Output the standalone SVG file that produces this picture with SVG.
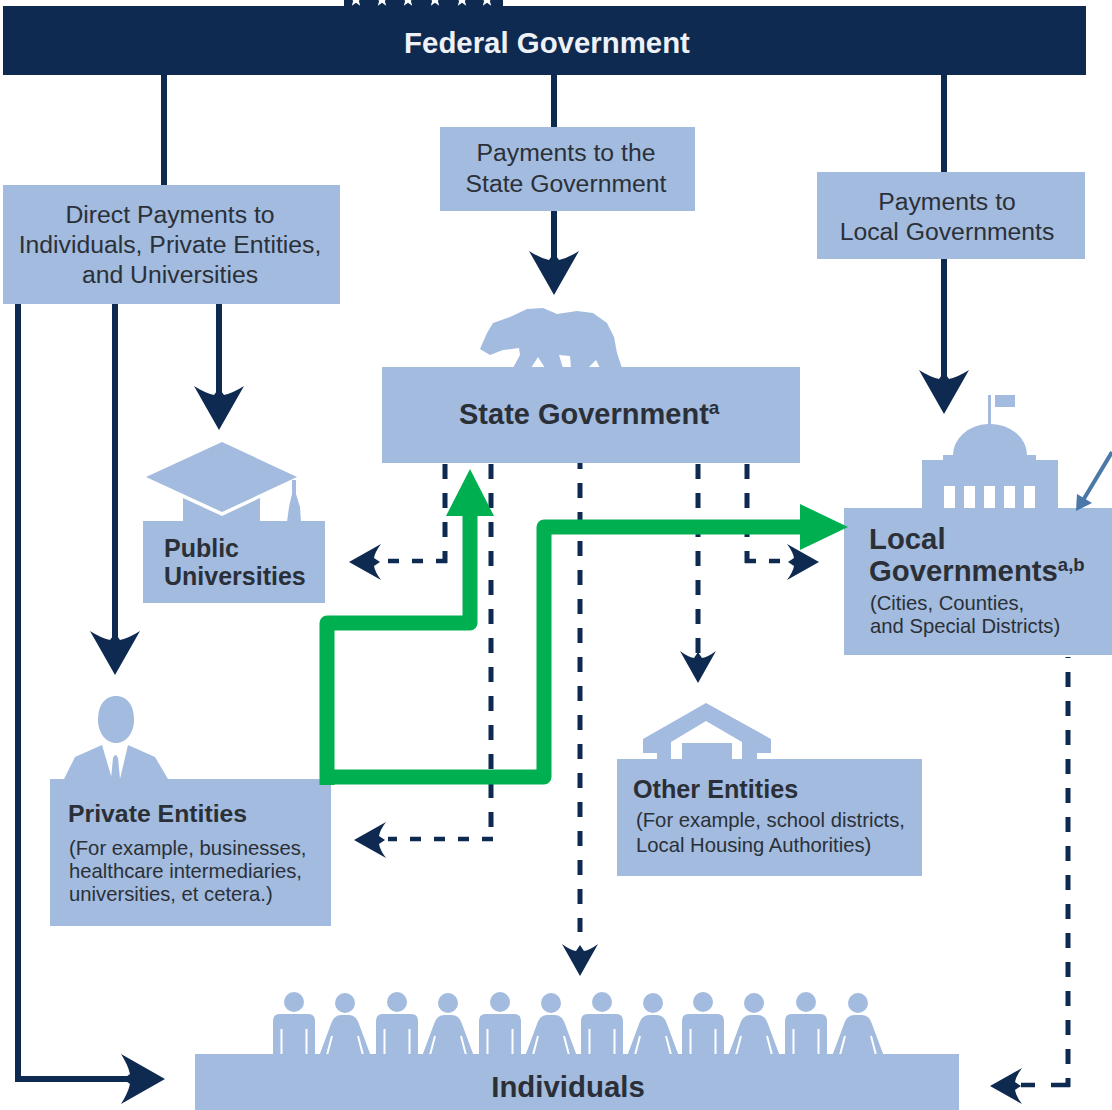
<svg xmlns="http://www.w3.org/2000/svg" width="1112" height="1110" viewBox="0 0 1112 1110">
<defs>
<style>
.box{fill:#a2bbde}
.nav{fill:#0e2a50}
text{font-family:"Liberation Sans",Arial,sans-serif;fill:#2b3038}
.r{font-size:24.75px;text-anchor:middle}
.b{font-weight:bold}
.sub{font-size:20.25px}
.solid{fill:none;stroke:#0e2a50;stroke-width:6}
.dv{fill:none;stroke:#0e2a50;stroke-width:5;stroke-dasharray:15 14}
.dh{fill:none;stroke:#0e2a50;stroke-width:4.5;stroke-dasharray:11 13}
.green{fill:none;stroke:#00b050;stroke-width:15;stroke-linejoin:round}
</style>
<path id="big" class="nav" d="M0 0L-25-44Q-14-37-5-35L0-42L5-35Q14-37 25-44Z"/>
<path id="small" class="nav" d="M0 0L-18-32Q-10-26-4-25L0-31L4-25Q10-26 18-32Z"/>
<path id="star" d="M0-7L1.800-2.200L6.700-2.200L2.800 .8L4.200 5.700L0 2.800L-4.200 5.700L-2.800 .8L-6.700-2.200L-1.800-2.200Z" fill="#fff"/>
<g id="man"><circle cx="0" cy="-53" r="10" class="box"/><path class="box" d="M-21 0V-34Q-21-41-14-41H14Q21-41 21-34V0H13.500V-26H11.500V0H-11.500V-26H-13.500V0Z"/></g>
<g id="woman"><circle cx="0" cy="-52" r="10" class="box"/><path class="box" d="M-25.500 0L-14-31Q-11-40-4-40H4Q11-40 14-31L25.500 0Z"/><path d="M-13-19L-18 0M13-19L18 0" stroke="#fff" stroke-width="2" fill="none"/></g>
</defs>
<rect width="1112" height="1110" fill="#fff"/>

<g id="connectors">
<path class="solid" d="M164 75V186"/>
<path class="solid" d="M554 75V128"/>
<path class="solid" d="M944 75V174"/>
<path class="solid" d="M554 210V262"/>
<path class="solid" d="M944 258V380"/>
<path class="solid" d="M219 303V396"/>
<path class="solid" d="M115 303V641"/>
<path class="solid" d="M18 303V1079H132"/>
<use href="#big" transform="translate(554 295)"/>
<use href="#big" transform="translate(944 414)"/>
<use href="#big" transform="translate(219 430)"/>
<use href="#big" transform="translate(115 675)"/>
<use href="#big" transform="translate(165 1079) rotate(-90)"/>
<path class="dv" d="M445 464V563"/>
<path class="dh" d="M447 561H388"/>
<path class="dv" d="M491 464V841"/>
<path class="dh" d="M493 839H388"/>
<path class="dv" d="M580 454V932"/>
<path class="dv" d="M698 464V656"/>
<path class="dv" d="M747 464V563"/>
<path class="dh" d="M745 561H795"/>
<path class="dv" d="M1068 1087V657" style="stroke-dashoffset:6"/>
<path class="dh" d="M1070 1085H1020" style="stroke-dasharray:19 16 14 100"/>
<use href="#small" transform="translate(349 562) rotate(90)"/>
<use href="#small" transform="translate(354 840) rotate(90)"/>
<use href="#small" transform="translate(580 976)"/>
<use href="#small" transform="translate(698 683)"/>
<use href="#small" transform="translate(819 562) rotate(-90)"/>
<use href="#small" transform="translate(990 1086) rotate(90)"/>
</g>

<g id="federal">
<rect x="344" y="0" width="159" height="8" class="nav"/>
<use href="#star" x="356" y="0"/><use href="#star" x="382" y="0"/><use href="#star" x="408" y="0"/><use href="#star" x="435" y="0"/><use href="#star" x="462" y="0"/><use href="#star" x="487" y="0"/>
<rect x="3" y="6" width="1083" height="69" class="nav"/>
<text x="547" y="53" text-anchor="middle" class="b" font-size="29.4" style="fill:#eef1f6">Federal Government</text>
</g>

<g id="direct-payments">
<rect x="3" y="185" width="337" height="119" class="box"/>
<text class="r" x="170" y="223">Direct Payments to</text>
<text class="r" x="170" y="253">Individuals, Private Entities,</text>
<text class="r" x="170" y="283">and Universities</text>
</g>
<g id="payments-state">
<rect x="440" y="127" width="255" height="84" class="box"/>
<text class="r" x="566" y="161">Payments to the</text>
<text class="r" x="566" y="192">State Government</text>
</g>
<g id="payments-local">
<rect x="817" y="172" width="268" height="87" class="box"/>
<text class="r" x="947" y="210">Payments to</text>
<text class="r" x="947" y="240">Local Governments</text>
</g>

<g id="state-government">
<path class="box" d="M480 349L487 333L493 323L510 317L527 309L543 308L557 314L577 311L593 313L607 323L614 337L617 353L622 368H600L596 360L588 368H571L570 356L559 355L563 368H545L538 357L531 368H513L520 355L519 348L503 350L490 355Z"/>
<rect x="382" y="367" width="418" height="96" class="box"/>
<text x="459" y="424" class="b" font-size="29">State Government<tspan font-size="19" dy="-10">a</tspan></text>
</g>

<g id="public-universities">
<path class="box" d="M183 498L222 516L260 498V522H183Z"/>
<path class="box" d="M222 442L297 477L222 512L146 477Z"/>
<path class="box" d="M292 480H296V494L300 507L301 522H287L289 507L292 494Z"/>
<rect x="143" y="521" width="182" height="82" class="box"/>
<text x="164" y="557" class="b" font-size="25">Public</text>
<text x="164" y="585" class="b" font-size="25">Universities</text>
</g>

<g id="local-governments">
<path class="box" fill-rule="evenodd" d="M988 395H991V424A37 31 0 0 1 1027 455H1036V460H1058V510H922V460H943V455H953A37 31 0 0 1 988 424Z M944 486V508H955V486Z M964 486V508H975V486Z M984 486V508H995V486Z M1004 486V508H1015V486Z M1024 486V508H1035V486Z"/>
<rect x="995" y="395" width="20" height="12" class="box"/>
<rect x="844" y="508" width="268" height="147" class="box"/>
<text x="869" y="549" class="b" font-size="29.3">Local</text>
<text x="869" y="581" class="b" font-size="29.3">Governments<tspan font-size="18.5" dy="-10">a,b</tspan></text>
<text x="870" y="610" class="sub">(Cities, Counties,</text>
<text x="870" y="633" class="sub">and Special Districts)</text>
</g>

<g id="private-entities">
<path class="box" d="M98 720C98 705 105 696 116 696C127 696 134 705 134 720C134 733 126 743 116 743C106 743 98 733 98 720Z"/>
<path class="box" d="M64 779L75 757L102 745L112 779ZM168 779L155 757L128 745L120 779ZM113 758Q115.500 752 118 758L120 779H111Z"/>
<rect x="50" y="779" width="281" height="147" class="box"/>
<text x="68" y="822" class="b" font-size="24.8">Private Entities</text>
<text x="69" y="855" class="sub">(For example, businesses,</text>
<text x="69" y="878" class="sub">healthcare intermediaries,</text>
<text x="69" y="901" class="sub">universities, et cetera.)</text>
</g>

<g id="other-entities">
<path class="box" d="M706 703L771 739V753H757V760H742V742L706 721L671 742V760H657V753H643V739ZM682 743H732V760H682Z"/>
<rect x="617" y="759" width="305" height="117" class="box"/>
<text x="633" y="798" class="b" font-size="25.2">Other Entities</text>
<text x="636" y="827" class="sub">(For example, school districts,</text>
<text x="636" y="852" class="sub">Local Housing Authorities)</text>
</g>

<g id="individuals">
<use href="#man" transform="translate(294 1055)"/>
<use href="#woman" transform="translate(345 1055)"/>
<use href="#man" transform="translate(397 1055)"/>
<use href="#woman" transform="translate(448 1055)"/>
<use href="#man" transform="translate(500 1055)"/>
<use href="#woman" transform="translate(551 1055)"/>
<use href="#man" transform="translate(602 1055)"/>
<use href="#woman" transform="translate(653 1055)"/>
<use href="#man" transform="translate(703 1055)"/>
<use href="#woman" transform="translate(754 1055)"/>
<use href="#man" transform="translate(806 1055)"/>
<use href="#woman" transform="translate(858 1055)"/>
<rect x="195" y="1054" width="764" height="56" class="box"/>
<text x="568" y="1097" text-anchor="middle" class="b" font-size="29.4">Individuals</text>
</g>

<g id="annotations">
<path class="green" d="M327 785V623H470V510"/>
<path d="M470 469L494 516H446Z" fill="#00b050"/>
<path class="green" d="M322 777H544V527H805"/>
<path d="M848 527L800 504V550Z" fill="#00b050"/>
<path d="M1112 452L1082 502" fill="none" stroke="#4a78a8" stroke-width="4"/>
<path d="M1076 511L1077 494L1092 503Z" fill="#4a78a8"/>
</g>
</svg>
